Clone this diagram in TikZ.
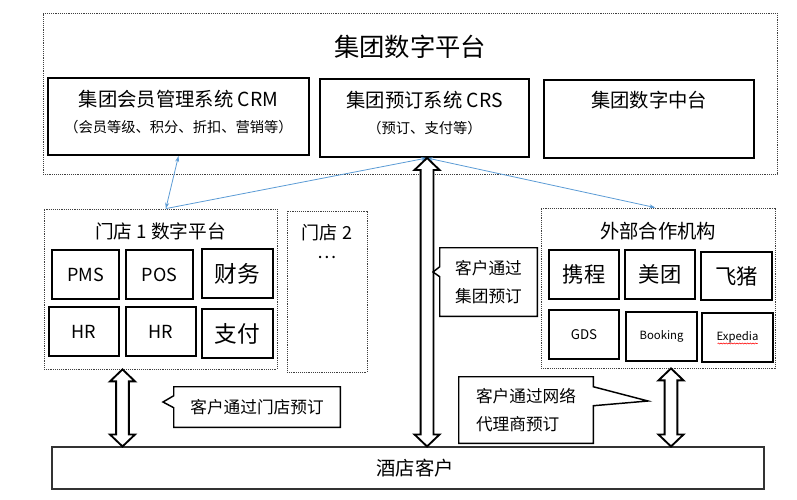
\documentclass[tikz,border=0pt]{standalone}
\usepackage{fontspec}
\setmainfont{Noto Sans CJK SC}
\usetikzlibrary{calc}
\usetikzlibrary{positioning}
\usetikzlibrary{arrows.meta}
\usetikzlibrary{decorations.pathmorphing}

\definecolor{linkblue}{RGB}{91,155,213}

\tikzset{
	wh/.style 2 args={minimum width={#1*0.75pt}, minimum height={#2*0.75pt}, inner sep=0pt},
	grpbox/.style={draw=black!75, line width=0.6pt, dash pattern=on 0.7pt off 0.7pt},
	sysbox/.style={draw, line width=1.5pt},
	appbox/.style={draw, line width=1.4pt},
	callbox/.style={draw, line width=1.1pt},
	blockarr/.style={draw, line width=1.4pt, fill=white},
	link/.style={draw=linkblue, line width=0.6pt, -{Stealth[length=4.5pt,width=3pt]}},
	fs/.style={font=\fontsize{#1pt}{#1pt}\selectfont},
}

% hollow two-headed arrow, from top point #1 down to bottom point #2
\newcommand{\twoway}[2]{%
	\draw[blockarr] let \p1=#1, \p2=#2 in
		(\x1,\y1) -- (\x1+9.4pt,\y1-9pt) -- (\x1+4.8pt,\y1-9pt) -- (\x1+4.8pt,\y2+9pt)
		-- (\x1+9.4pt,\y2+9pt) -- (\x1,\y2) -- (\x1-9.4pt,\y2+9pt) -- (\x1-4.8pt,\y2+9pt)
		-- (\x1-4.8pt,\y1-9pt) -- (\x1-9.4pt,\y1-9pt) -- cycle;
}

\begin{document}
\begin{tikzpicture}[x=0.75pt, y=-0.75pt]
	\useasboundingbox (0,0) rectangle (797,500);

	% group platform
	\node (group) [grpbox, wh={734}{161}] at (410,93.5) {};
	\node (groupt) [fs=19] at (410,47) {集团数字平台};

	\node (crm) [sysbox, wh={261}{77}] at (178.5,116.5) {};
	\node (crmt) [fs=14.5] at ($(crm.north)+(0,22)$) {集团会员管理系统 CRM};
	\node (crms) [fs=10.7] at ($(crm.north)+(0,50)$) {（会员等级、积分、折扣、营销等）};

	\node (crs) [sysbox, wh={209}{78}] at (424.5,118) {};
	\node (crst) [fs=14.5] at ($(crs.north)+(0,22)$) {集团预订系统 CRS};
	\node (crss) [fs=10.7] at ($(crs.north)+(0,50)$) {（预订、支付等）};

	\node (mid) [sysbox, wh={210}{78}] at (649,119) {};
	\node (midt) [fs=14.5] at ($(mid.north)+(0,21)$) {集团数字中台};

	% store 1
	\node (store1) [grpbox, wh={233}{160}] at (160.5,289) {};
	\node (store1t) [fs=14] at ($(store1.north)+(0,23)$) {门店 1 数字平台};
	\node (pms) [appbox, wh={67}{49}, fs=13.5] at (85.5,274.5) {PMS};
	\node (pos) [appbox, wh={67}{49}, fs=13.5] at (159.5,274.5) {POS};
	\node (fin) [appbox, wh={71}{49}, fs=17] at (237.5,273.5) {财务};
	\node (hra) [appbox, wh={70}{49}, fs=13.5] at (84,331.5) {HR};
	\node (hrb) [appbox, wh={70}{49}, fs=13.5] at (161,331.5) {HR};
	\node (pay) [appbox, wh={71}{49}, fs=17] at (237.5,333.5) {支付};

	% store 2
	\node (store2) [grpbox, wh={80}{161}] at (327,291.5) {};
	\node (store2t) [fs=13.5] at ($(store2.north)+(0,22)$) {门店 2};
	\node (store2d) [fs=13.5] at ($(store2.north)+(0,47)$) {…};

	% partners
	\node (ext) [grpbox, wh={234}{160}] at (658,288) {};
	\node (extt) [fs=14.5] at ($(ext.north)+(0,24)$) {外部合作机构};
	\node (ctrip) [appbox, wh={70}{49}, fs=16] at (584,274.5) {携程};
	\node (meituan) [appbox, wh={70}{49}, fs=16] at (660,274.5) {美团};
	\node (fliggy) [appbox, wh={71}{48}, fs=16] at (736.5,276) {飞猪};
	\node (gds) [appbox, wh={70}{49}, fs=10] at (584,334.5) {GDS};
	\node (booking) [appbox, wh={71}{49}, fs=8.5] at (661.5,336.5) {Booking};
	\node (expedia) [appbox, wh={71}{49}, fs=8.5] at (737.5,337.5) {Expedia};
	\draw [red, line width=0.4pt, decorate, decoration={snake, amplitude=0.4pt, segment length=2pt}]
		($(expedia.center)+(-20,6)$) -- ($(expedia.center)+(20,6)$);

	% guests
	\node (guest) [draw=black!80, line width=0.8pt, wh={712}{42}] at (408,468) {};
	\node (guestt) [fs=14.5] at (415,468) {酒店客户};

	% blue links
	\draw [link, {Stealth[length=4.5pt,width=3pt]}-{Stealth[length=4.5pt,width=3pt]}] ([xshift=4pt]store1.north) -- (crm.south);
	\draw [link] ([xshift=4pt]store1.north) -- ([xshift=1.9pt]crs.south);
	\draw [link, {Stealth[length=4.5pt,width=3pt]}-{Stealth[length=4.5pt,width=3pt]}] ([xshift=1.9pt]crs.south) -- ([xshift=-2pt]ext.north);

	% hollow arrows
	\coordinate (m1) at ($(pms.east)!.5!(pos.west)$);
	\coordinate (a1) at (m1 |- store1.south);
	\twoway{(a1)}{(a1 |- guest.north)}
	\coordinate (a2) at ([xshift=1.9pt]crs.south);
	\twoway{(a2)}{(a2 |- guest.north)}
	\coordinate (a3) at ([xshift=9.75pt]ext.south);
	\twoway{(a3)}{(a3 |- guest.north)}

	% callouts
	\node (c1) [wh={97}{68}, align=center, font=\fontsize{12.5pt}{21pt}\selectfont] at (488.5,282) {客户通过\\集团预订};
	\coordinate (t1) at (433,272);
	\draw [callbox] (c1.north west) -- (c1.north east) -- (c1.south east) -- (c1.south west)
		-- ($(c1.north west)+(0,29)$) -- (t1) -- ($(c1.north west)+(0,19)$) -- cycle;

	\node (c2) [wh={166}{40}, fs=12.5] at (257,407) {客户通过门店预订};
	\coordinate (t2) at (163,402);
	\draw [callbox] (c2.north west) -- (c2.north east) -- (c2.south east) -- (c2.south west)
		-- ($(c2.north west)+(0,21)$) -- (t2) -- ($(c2.north west)+(0,9)$) -- cycle;

	\node (c3) [wh={134}{66}, align=left, font=\fontsize{12.5pt}{21pt}\selectfont] at (526,410) {客户通过网络\\代理商预订};
	\coordinate (t3) at (648,401);
	\draw [callbox] (c3.north west) -- (c3.north east) -- ($(c3.north east)+(0,10)$) -- (t3)
		-- ($(c3.north east)+(0,29)$) -- (c3.south east) -- (c3.south west) -- cycle;

\end{tikzpicture}
\end{document}
